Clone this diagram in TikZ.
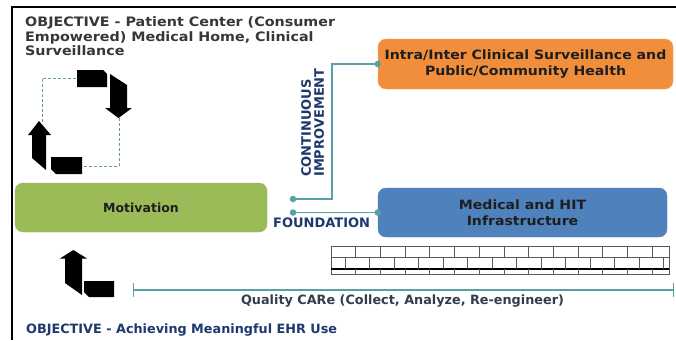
\documentclass[tikz,border=0pt]{standalone}
\usepackage{fontspec}
\setmainfont{DejaVu Sans}
\newfontfamily\widesans{DejaVu Sans}[FakeStretch=1.1]
\usetikzlibrary{arrows.meta}
\definecolor{orangebox}{RGB}{240,142,60}
\definecolor{greenbox}{RGB}{155,187,89}
\definecolor{bluebox}{RGB}{79,129,189}
\definecolor{tealc}{RGB}{88,160,166}
\definecolor{navy}{RGB}{31,56,110}
\definecolor{darktext}{RGB}{55,55,55}
\definecolor{slate}{RGB}{50,62,80}
\definecolor{boxtext}{RGB}{30,30,30}
\begin{document}
\begin{tikzpicture}[x=1pt,y=-1pt,
  box/.style={rounded corners=8pt, inner sep=0pt, align=center,
    font=\widesans\bfseries\fontsize{12.8}{16.5}\selectfont, text=boxtext},
  conn/.style={draw=tealc, line width=1.6pt},
  dot/.style={circle, fill=tealc, inner sep=0pt, minimum size=6.5pt},
  lbl/.style={font=\bfseries\fontsize{13}{13}\selectfont, text=navy, inner sep=0pt},
  txt/.style={font=\bfseries\fontsize{12.8}{14.5}\selectfont, inner sep=0pt},
  cycdash/.style={draw=tealc!80!gray, dash pattern=on 3pt off 2pt, line width=0.9pt},
  blk/.style={fill=black},
  wallline/.style={draw=black!65, line width=0.7pt}
]
\useasboundingbox (0,0) rectangle (676,340);
\fill[white] (0,0) rectangle (676,340);
% frame
\draw[line width=1.4pt] (12,340) -- (12,7) -- (676,7);

% texts
\node[txt, font=\widesans\bfseries\fontsize{13}{14.6}\selectfont, text=darktext, anchor=north west, align=left] (obj1) at (25,16.5)
  {OBJECTIVE - Patient Center (Consumer\\Empowered) Medical Home, Clinical\\Surveillance};
\node[txt, text=navy, anchor=base west] (obj2) at (26,333)
  {OBJECTIVE - Achieving Meaningful EHR Use};
\node[txt, text=slate, anchor=base] (qtxt) at (402.5,304)
  {Quality CARe (Collect, Analyze, Re-engineer)};

% boxes
\node[box, fill=orangebox, draw=orangebox!80!white, minimum width=295pt, minimum height=50pt] (surv) at (525.5,64)
  {Intra/Inter Clinical Surveillance and\\Public/Community Health};
\node[box, fill=bluebox, draw=bluebox, minimum width=289pt, minimum height=49pt] (infra) at (522.5,212.5)
  {Medical and HIT\\Infrastructure};
\node[box, font=\bfseries\fontsize{12.5}{15}\selectfont, fill=greenbox, draw=greenbox, minimum width=252pt, minimum height=49pt] (motiv) at (141,207.5)
  {Motivation};

% labels
\node[lbl, rotate=90, anchor=north west, align=left] (ci) at (301,177) {CONTINUOUS\\IMPROVEMENT};
\node[lbl, anchor=base west] (fd) at (273,227) {FOUNDATION};

% connectors
\coordinate (cibend) at (332,64);
\coordinate (ciend) at (293,199);
\coordinate (fdend) at (293,212.5);
\draw[conn] (surv.west) -- (cibend) |- (ciend);
\draw[conn] (fdend) -- (infra.west);
\node[dot] (d1) at (surv.west) {};
\node[dot] (d2) at (ciend) {};
\node[dot] (d3) at (fdend) {};
\node[dot] (d4) at (infra.west) {};

% quality line
\coordinate (qa) at (133,290);
\coordinate (qb) at (674,290);
\draw[conn, line width=1.3pt, {Bar[width=14pt]}-{Bar[width=14pt]}] (qa) -- (qb);

% brick wall
\draw[wallline] (331,246) rectangle (669,274);
\draw[wallline] (331,257) -- (669,257);
\draw[black, line width=1.4pt] (331,269) -- (669,269);
\foreach \k in {1,...,13} \draw[wallline] ({331+24.7*\k},246) -- ++(0,11);
\foreach \k in {0,...,13} \draw[wallline] ({345+24.5*\k},257) -- ++(0,12);
\foreach \k in {1,...,13} \draw[wallline] ({331+24.7*\k},269) -- ++(0,5);

% cycle
\draw[cycdash] (42,122) -- (42,78) -- (79,78);
\draw[cycdash] (119,118) -- (119,166) -- (82,166);
\fill[blk] (77,70) -- (103,70) -- (107,74) -- (107,87) -- (77,87) -- cycle;
\fill[blk] (110,74) -- (127,85) -- (127,108) -- (132,108) -- (118.5,118) -- (105,108) -- (110,108) -- cycle;
\fill[blk] (39,121) -- (51,135) -- (46,135) -- (46,170) -- (32,158) -- (32,135) -- (28,135) -- cycle;
\fill[blk] (51,157) -- (82,157) -- (82,174) -- (56,174) -- (51,169) -- cycle;

% lower arrow
\fill[blk] (73.3,250) -- (87,258.5) -- (82,258.5) -- (82,295) -- (65,283) -- (65,258.5) -- (60,258.5) -- cycle;
\fill[blk] (84,281) -- (114,281) -- (114,297) -- (89,297) -- (84,292) -- cycle;
\end{tikzpicture}
\end{document}
